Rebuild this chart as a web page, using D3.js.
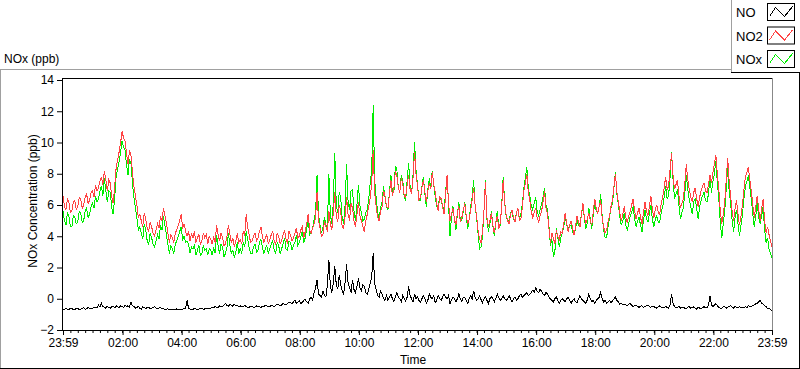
<!DOCTYPE html>
<html>
<head>
<meta charset="utf-8">
<script src="https://cdn.jsdelivr.net/npm/d3@7"></script>
<style>
  body { margin: 0; background: #fff; }
  svg { display: block; font-family: "Liberation Sans", Arial, sans-serif; }
</style>
</head>
<body>
<div id="chart"></div>
<script>
// NOx daily trace, 3 minute samples from 23:59 to 23:59

const stepMinutes = 3;
const startMinute = -1;

const seriesNames = ["NO", "NO2", "NOx"];
const seriesColors = ["#000000", "#ff4444", "#00ee00"];

const noValues = [
  -0.65, -0.7, -0.6, -0.66, -0.7, -0.6, -0.62, -0.7, -0.68, -0.62, -0.6, -0.7, -0.66, -0.6, -0.58, -0.68, -0.64, -0.56, -0.6, -0.66,
  -0.62, -0.56, -0.55, -0.6, -0.4, -0.52, -0.3, -0.5, -0.55, -0.6, -0.48, -0.56, -0.6, -0.52, -0.5, -0.58, -0.45, -0.52, -0.55, -0.46,
  -0.5, -0.56, -0.4, -0.5, -0.45, -0.52, -0.2, -0.45, -0.5, -0.6, -0.55, -0.5, -0.6, -0.66, -0.5, -0.58, -0.62, -0.56, -0.55, -0.64,
  -0.6, -0.55, -0.5, -0.6, -0.65, -0.58, -0.55, -0.64, -0.62, -0.7, -0.68, -0.64, -0.7, -0.72, -0.66, -0.7, -0.7, -0.65, -0.68, -0.72,
  -0.7, -0.66, -0.65, -0.6, -0.1, -0.62, -0.66, -0.7, -0.68, -0.62, -0.64, -0.7, -0.66, -0.6, -0.62, -0.68, -0.65, -0.6, -0.6, -0.66,
  -0.62, -0.55, -0.58, -0.5, -0.55, -0.6, -0.45, -0.52, -0.5, -0.42, -0.3, -0.45, -0.48, -0.38, -0.4, -0.48, -0.35, -0.44, -0.42, -0.5,
  -0.45, -0.52, -0.5, -0.44, -0.48, -0.56, -0.55, -0.48, -0.5, -0.56, -0.52, -0.46, -0.48, -0.52, -0.55, -0.5, -0.5, -0.42, -0.46, -0.52,
  -0.5, -0.42, -0.45, -0.5, -0.42, -0.35, -0.38, -0.44, -0.4, -0.3, -0.35, -0.4, -0.3, -0.22, -0.25, -0.32, -0.2, -0.1, -0.28, -0.2,
  -0.15, -0.3, -0.25, -0.1, -0.05, -0.2, -0.3, 0.0, 0.1, -0.1, 0.4, 0.7, 1.2, 0.3, 0.2, 0.1, 0.5, 0.2, 0.1, 0.9,
  2.5, 0.8, 0.4, 1.0, 2.1, 0.9, 0.6, 1.5, 0.9, 0.5, 0.3, 1.1, 2.2, 1.0, 0.7, 0.4, 1.2, 0.6, 0.4, 0.8,
  1.3, 0.7, 0.5, 0.9, 0.8, 0.4, 0.3, 0.6, 1.0, 1.4, 2.9, 1.0, 0.6, 0.2, 0.1, 0.5, 0.3, 0.0, -0.1, 0.2,
  -0.1, 0.1, 0.3, 0.0, -0.2, 0.1, 0.4, 0.1, 0.0, -0.2, 0.2, 0.0, -0.15, 0.1, 0.8, 0.2, 0.0, -0.2, 0.3, 0.0,
  0.1, -0.1, -0.2, 0.0, 0.2, 0.0, -0.3, -0.1, 0.3, 0.1, 0.0, 0.2, -0.25, -0.1, 0.2, 0.0, -0.1, 0.1, 0.3, 0.1,
  0.0, 0.2, -0.3, -0.1, 0.1, 0.0, -0.2, 0.0, 0.3, 0.0, -0.15, 0.1, 0.1, -0.1, -0.3, 0.0, 0.2, 0.0, 0.5, 0.1,
  -0.1, 0.0, 0.2, -0.05, -0.25, 0.0, 0.1, -0.1, -0.3, 0.0, 0.15, 0.0, -0.2, 0.0, 0.3, 0.1, -0.1, 0.0, 0.2, 0.0,
  -0.1, 0.0, 0.2, 0.0, -0.2, 0.0, 0.1, -0.1, 0.0, 0.2, 0.3, 0.1, 0.2, 0.3, 0.4, 0.2, 0.3, 0.4, 0.55, 0.4,
  0.7, 0.5, 0.4, 0.6, 0.5, 0.3, 0.2, 0.4, 0.3, 0.1, 0.0, -0.1, -0.2, 0.0, 0.1, -0.1, -0.3, -0.1, 0.0, -0.1,
  -0.2, 0.0, 0.1, -0.1, -0.3, -0.1, 0.0, -0.2, -0.25, 0.0, 0.2, 0.0, -0.1, -0.2, -0.3, -0.05, 0.3, 0.0, -0.2, -0.1,
  -0.3, -0.1, 0.0, 0.1, 0.4, 0.0, -0.2, -0.1, -0.3, -0.2, -0.1, -0.25, -0.15, 0.0, 0.1, -0.1, -0.2, -0.35, -0.3, -0.4,
  -0.35, -0.4, -0.45, -0.35, -0.3, -0.42, -0.5, -0.42, -0.4, -0.5, -0.55, -0.48, -0.45, -0.55, -0.5, -0.44, -0.4, -0.5, -0.55, -0.48,
  -0.5, -0.56, -0.6, -0.52, -0.45, -0.56, -0.55, -0.6, -0.5, -0.56, -0.6, -0.4, 0.3, -0.3, -0.5, -0.58, -0.55, -0.5, -0.6, -0.52,
  -0.55, -0.6, -0.62, -0.54, -0.5, -0.6, -0.58, -0.52, -0.6, -0.66, -0.55, -0.6, -0.62, -0.56, -0.5, -0.58, -0.58, -0.4, 0.2, -0.4,
  -0.5, -0.4, -0.3, -0.45, -0.55, -0.62, -0.6, -0.52, -0.5, -0.6, -0.55, -0.48, -0.45, -0.55, -0.6, -0.5, -0.55, -0.6, -0.5, -0.58,
  -0.55, -0.6, -0.5, -0.56, -0.45, -0.52, -0.5, -0.42, -0.4, -0.32, -0.3, -0.2, -0.1, -0.28, -0.35, -0.45, -0.5, -0.62, -0.6, -0.7, -0.75
];

const no2Values = [
  6.6, 5.9, 5.7, 6.4, 6.2, 5.5, 5.6, 6.2, 6.3, 5.7, 5.9, 6.5, 6.4, 5.8, 6.0, 6.5, 6.7, 6.1, 6.3, 6.8,
  6.9, 6.5, 7.3, 6.9, 7.1, 7.5, 7.8, 7.3, 8.2, 7.6, 6.9, 7.6, 7.4, 6.5, 6.1, 7.2, 8.4, 8.9, 9.4, 10.0,
  10.7, 10.3, 10.1, 9.3, 8.6, 9.5, 9.2, 8.1, 7.2, 6.6, 6.0, 5.2, 5.4, 5.0, 4.6, 5.5, 5.1, 4.5, 4.3, 4.9,
  4.6, 4.2, 4.0, 4.4, 4.8, 4.5, 5.3, 5.0, 5.8, 5.3, 4.9, 4.2, 3.6, 4.1, 3.9, 3.6, 4.2, 4.4, 4.7, 5.0,
  5.4, 4.5, 4.8, 4.3, 4.0, 4.3, 3.7, 4.2, 3.9, 4.3, 3.6, 3.9, 4.1, 3.5, 3.7, 4.2, 3.9, 4.1, 3.5, 4.0,
  3.8, 3.5, 4.0, 3.6, 4.7, 4.1, 3.7, 4.2, 3.9, 3.4, 3.5, 4.0, 4.7, 4.1, 3.6, 3.9, 3.3, 3.7, 4.2, 3.6,
  3.8, 3.5, 4.3, 4.0, 5.4, 4.6, 4.1, 3.6, 3.7, 4.0, 4.2, 3.7, 3.9, 4.3, 4.6, 4.0, 3.6, 3.9, 4.1, 3.5,
  3.8, 4.1, 4.3, 3.7, 3.5, 4.2, 4.0, 3.5, 3.7, 4.1, 4.4, 3.8, 3.6, 4.3, 4.1, 3.7, 3.9, 4.2, 4.5, 3.9,
  4.0, 4.4, 4.6, 3.9, 4.3, 4.8, 5.4, 4.4, 4.2, 4.5, 4.8, 5.2, 6.8, 5.0, 4.5, 4.0, 4.1, 5.0, 4.6, 4.3,
  5.6, 4.8, 4.4, 5.5, 6.8, 5.3, 4.9, 6.0, 5.6, 4.6, 4.5, 5.3, 6.5, 5.4, 5.0, 6.1, 5.8, 5.0, 4.6, 5.4,
  6.2, 5.3, 5.0, 4.6, 4.3, 5.0, 5.4, 5.9, 6.5, 7.4, 9.5, 6.8, 5.9, 5.2, 5.0, 5.6, 5.9, 6.9, 6.6, 5.9,
  5.8, 6.7, 7.6, 6.6, 7.0, 8.2, 7.9, 7.1, 6.8, 7.7, 7.4, 6.6, 6.5, 7.3, 7.9, 7.0, 6.7, 7.8, 9.4, 8.0,
  7.2, 6.3, 6.5, 7.1, 7.6, 6.8, 6.2, 6.9, 7.4, 7.0, 8.1, 7.3, 6.8, 6.1, 5.6, 6.5, 6.4, 5.9, 5.4, 6.6,
  7.9, 6.2, 5.0, 5.4, 5.8, 5.1, 4.7, 5.5, 5.9, 4.9, 5.2, 5.7, 6.1, 5.3, 4.8, 5.1, 5.7, 6.3, 7.1, 6.0,
  5.3, 4.4, 3.8, 3.6, 4.3, 5.6, 7.5, 5.2, 4.6, 5.0, 5.5, 4.7, 4.2, 4.9, 5.3, 4.5, 4.8, 5.9, 7.6, 6.1,
  5.4, 5.0, 4.8, 5.4, 5.7, 5.2, 4.9, 5.5, 5.8, 5.0, 5.1, 5.9, 6.9, 7.4, 8.0, 6.8, 6.3, 5.6, 5.2, 5.5,
  5.8, 5.2, 4.9, 5.3, 5.6, 6.2, 6.9, 5.8, 5.4, 4.5, 3.6, 4.2, 3.9, 3.5, 4.4, 4.0, 3.8, 4.3, 4.2, 4.8,
  5.5, 4.8, 4.3, 4.7, 5.0, 4.5, 4.1, 4.6, 5.3, 4.9, 4.6, 5.4, 6.1, 5.2, 4.8, 5.1, 5.5, 5.0, 4.7, 5.6,
  6.4, 5.8, 5.5, 5.9, 6.3, 5.2, 4.6, 4.2, 4.4, 4.9, 5.3, 5.9, 6.3, 7.2, 8.0, 6.8, 6.2, 5.5, 5.0, 5.4,
  5.9, 5.2, 4.9, 5.3, 5.6, 6.0, 6.4, 5.6, 5.1, 5.5, 5.8, 5.2, 4.8, 5.5, 6.2, 5.6, 5.3, 5.9, 6.6, 5.7,
  5.2, 5.7, 6.0, 5.5, 5.4, 6.1, 6.5, 7.1, 7.8, 7.0, 7.2, 8.3, 9.3, 7.9, 7.0, 7.3, 7.6, 6.6, 5.8, 6.1,
  6.4, 7.4, 8.6, 7.6, 7.0, 6.5, 6.2, 6.8, 7.1, 6.4, 5.9, 6.5, 6.9, 7.2, 7.4, 6.9, 6.8, 7.3, 7.9, 7.4,
  8.1, 8.6, 9.2, 8.0, 7.0, 5.6, 4.8, 5.4, 6.2, 7.6, 9.0, 7.5, 6.6, 5.6, 5.0, 5.8, 6.3, 5.4, 4.7, 5.3,
  6.0, 7.0, 7.8, 8.1, 8.4, 7.6, 6.9, 6.0, 5.2, 5.9, 6.6, 5.7, 5.0, 5.8, 6.4, 5.0, 4.2, 4.6, 4.1, 3.7, 3.3
];

const noxValues = [
  5.6, 5.0, 4.7, 5.5, 5.3, 4.6, 4.6, 5.3, 5.2, 4.8, 4.9, 5.6, 5.5, 4.9, 5.0, 5.6, 5.8, 5.2, 5.4, 5.9,
  6.1, 5.8, 6.6, 6.2, 6.4, 6.9, 7.2, 6.6, 7.7, 6.9, 6.2, 6.9, 6.8, 5.8, 5.4, 6.5, 7.9, 8.3, 8.8, 9.4,
  10.1, 9.7, 9.5, 8.6, 7.9, 8.9, 8.7, 7.4, 6.5, 5.8, 5.2, 4.4, 4.6, 4.2, 3.8, 4.8, 4.4, 3.7, 3.5, 4.2,
  3.9, 3.5, 3.3, 3.7, 4.1, 3.8, 4.7, 4.4, 5.3, 4.7, 4.1, 3.5, 2.9, 3.4, 3.2, 2.9, 3.5, 3.7, 4.0, 4.3,
  4.6, 3.8, 4.0, 3.6, 3.7, 3.5, 2.9, 3.3, 3.2, 3.4, 2.8, 3.1, 3.4, 2.8, 2.9, 3.4, 3.1, 3.2, 2.8, 3.2,
  3.1, 2.8, 3.3, 2.9, 4.1, 3.4, 2.9, 3.5, 3.3, 2.7, 2.9, 3.3, 4.2, 3.4, 2.9, 3.1, 2.6, 3.0, 3.6, 2.9,
  3.2, 2.9, 3.6, 3.3, 4.3, 3.8, 3.3, 2.9, 2.9, 3.3, 3.5, 3.0, 3.1, 3.6, 3.8, 3.3, 2.9, 3.2, 3.4, 2.9,
  3.2, 3.5, 3.7, 3.1, 2.9, 3.6, 3.4, 2.9, 3.2, 3.5, 3.9, 3.2, 3.1, 3.7, 3.6, 3.1, 3.4, 3.6, 4.1, 3.4,
  3.6, 4.0, 4.3, 3.6, 3.9, 4.5, 5.0, 4.1, 4.3, 4.5, 5.1, 5.5, 7.9, 5.4, 4.7, 4.2, 4.6, 5.2, 4.7, 4.6,
  8.0, 5.4, 4.8, 6.1, 9.3, 6.0, 5.5, 6.8, 6.5, 5.2, 4.8, 6.0, 8.6, 6.2, 5.7, 6.9, 7.0, 5.6, 5.0, 6.0,
  7.3, 6.0, 5.5, 5.0, 5.1, 5.5, 5.7, 6.4, 7.4, 8.2, 12.4, 7.6, 6.5, 5.5, 5.1, 5.8, 6.2, 7.2, 6.5, 5.9,
  5.7, 6.8, 7.9, 6.8, 6.8, 8.5, 8.3, 7.1, 6.8, 7.9, 7.6, 6.5, 6.3, 7.6, 8.7, 7.2, 6.7, 8.0, 10.0, 8.2,
  7.3, 6.3, 6.3, 7.2, 7.8, 6.7, 5.9, 7.0, 7.7, 7.1, 8.2, 7.3, 6.5, 5.9, 5.8, 6.6, 6.3, 5.9, 5.7, 6.8,
  7.9, 6.1, 4.0, 5.2, 5.9, 5.1, 4.4, 5.4, 6.2, 5.0, 5.0, 5.6, 6.2, 5.2, 4.5, 5.1, 5.9, 6.5, 7.6, 6.0,
  5.2, 4.2, 3.2, 3.3, 4.0, 5.6, 7.6, 5.1, 4.3, 4.8, 5.6, 4.7, 4.0, 4.8, 5.6, 4.6, 4.7, 6.0, 7.8, 6.2,
  5.3, 5.0, 5.0, 5.5, 5.5, 5.1, 5.0, 5.5, 5.8, 5.1, 5.4, 6.1, 7.1, 7.7, 8.4, 7.1, 6.6, 6.0, 5.7, 6.1,
  6.5, 5.6, 5.3, 5.7, 6.1, 6.5, 7.1, 6.0, 5.7, 4.6, 3.4, 3.8, 2.7, 3.0, 4.5, 3.9, 3.3, 3.9, 4.2, 4.6,
  5.3, 4.7, 4.4, 4.7, 4.7, 4.3, 4.1, 4.5, 5.0, 4.7, 4.8, 5.4, 6.0, 5.1, 4.5, 4.9, 5.8, 5.1, 4.5, 5.4,
  6.1, 5.6, 5.5, 5.9, 6.7, 5.3, 4.4, 3.9, 3.9, 4.6, 5.2, 5.8, 6.1, 7.1, 8.1, 6.7, 6.0, 5.2, 4.7, 5.0,
  5.5, 4.7, 4.4, 4.8, 5.3, 5.5, 5.9, 5.1, 4.6, 5.0, 5.2, 4.7, 4.3, 5.0, 5.7, 5.1, 4.9, 5.4, 6.0, 5.1,
  4.6, 5.1, 5.3, 4.9, 4.9, 5.5, 5.9, 6.5, 7.2, 6.4, 6.6, 7.8, 9.4, 7.6, 6.4, 6.7, 7.0, 6.0, 5.1, 5.5,
  5.8, 6.8, 7.9, 7.0, 6.3, 5.9, 5.4, 6.2, 6.4, 5.8, 5.1, 5.9, 6.3, 6.6, 6.8, 6.3, 6.2, 6.7, 7.8, 6.8,
  7.5, 8.0, 8.8, 7.4, 6.4, 4.9, 3.9, 4.8, 5.6, 7.0, 8.4, 6.9, 6.1, 5.0, 4.3, 5.2, 5.7, 4.8, 4.0, 4.7,
  5.4, 6.4, 7.2, 7.5, 7.9, 7.1, 6.4, 5.4, 4.6, 5.3, 6.1, 5.2, 4.8, 5.3, 5.9, 4.4, 3.6, 3.9, 3.2, 2.9, 2.6
];

// axis ticks (minutes after midnight)
const majorTickMinutes = [-1, 120, 240, 360, 480, 600, 720, 840, 960, 1080, 1200, 1320, 1439];
const majorTickLabels = ["23:59", "02:00", "04:00", "06:00", "08:00", "10:00", "12:00",
  "14:00", "16:00", "18:00", "20:00", "22:00", "23:59"];
const yTickValues = [-2, 0, 2, 4, 6, 8, 10, 12, 14];

const W = 800, H = 369;
const plot = { left: 62, top: 78, right: 772, bottom: 330 };

const svg = d3.select("#chart").append("svg")
  .attr("width", W)
  .attr("height", H);

// outer panel border
svg.append("line").attr("x1", 0).attr("x2", 731).attr("y1", 69.5).attr("y2", 69.5)
  .attr("stroke", "#a0a0a0");
svg.append("line").attr("x1", 0.5).attr("x2", 0.5).attr("y1", 69).attr("y2", H)
  .attr("stroke", "#a0a0a0");
svg.append("line").attr("x1", 0).attr("x2", W).attr("y1", H - 0.5).attr("y2", H - 0.5)
  .attr("stroke", "#000");
svg.append("line").attr("x1", W - 0.5).attr("x2", W - 0.5).attr("y1", 72).attr("y2", H)
  .attr("stroke", "#000");

// scales
const xScale = d3.scaleLinear()
  .domain([-1, 1439])
  .range([plot.left + 1, plot.right]);

const yScale = d3.scaleLinear()
  .domain([-2, 14])
  .range([plot.bottom, plot.top + 2]);

const times = noValues.map((d, i) => startMinute + i * stepMinutes);

// plot area frame
svg.append("line").attr("x1", plot.left).attr("x2", plot.right + 1)
  .attr("y1", plot.top + 0.5).attr("y2", plot.top + 0.5).attr("stroke", "#000");
svg.append("line").attr("x1", plot.right + 0.5).attr("x2", plot.right + 0.5)
  .attr("y1", plot.top).attr("y2", plot.bottom).attr("stroke", "#888");
svg.append("line").attr("x1", plot.left + 0.5).attr("x2", plot.left + 0.5)
  .attr("y1", plot.top).attr("y2", plot.bottom + 1).attr("stroke", "#000");
svg.append("line").attr("x1", plot.left).attr("x2", plot.right + 1)
  .attr("y1", plot.bottom + 0.5).attr("y2", plot.bottom + 0.5).attr("stroke", "#000");

// x axis: minor ticks every 15 min
const minorTicks = d3.range(14, 1439, 15).filter(t => t % 120 !== 0);
const xMinor = svg.append("g")
  .attr("transform", `translate(0,${plot.bottom})`)
  .call(d3.axisBottom(xScale).tickValues(minorTicks).tickSize(3).tickSizeOuter(0).tickFormat(""));
xMinor.select(".domain").remove();

const xAxis = svg.append("g")
  .attr("transform", `translate(0,${plot.bottom})`)
  .call(d3.axisBottom(xScale)
    .tickValues(majorTickMinutes)
    .tickSize(5)
    .tickSizeOuter(0)
    .tickPadding(3)
    .tickFormat((d, i) => majorTickLabels[i]));
xAxis.select(".domain").remove();
xAxis.selectAll("text")
  .style("font-size", "12px")
  .style("fill", "#000")
  .style("font-family", "Liberation Sans, Arial, sans-serif");

// y axis
const yAxis = svg.append("g")
  .attr("transform", `translate(${plot.left},0)`)
  .call(d3.axisLeft(yScale)
    .tickValues(yTickValues)
    .tickSize(5)
    .tickSizeOuter(0)
    .tickPadding(3));
yAxis.select(".domain").remove();
yAxis.selectAll("text")
  .style("font-size", "12px")
  .style("fill", "#000")
  .style("font-family", "Liberation Sans, Arial, sans-serif");

// axis titles
svg.append("text")
  .attr("transform", `translate(37,${(plot.top + plot.bottom) / 2 - 3}) rotate(-90)`)
  .attr("text-anchor", "middle")
  .style("font-size", "12px")
  .text("NOx Concentration (ppb)");

svg.append("text")
  .attr("x", 413)
  .attr("y", 364)
  .attr("text-anchor", "middle")
  .style("font-size", "12px")
  .text("Time");

svg.append("text")
  .attr("x", 4)
  .attr("y", 63)
  .style("font-size", "12px")
  .text("NOx (ppb)");

// data lines: NOx underneath, NO2 over it, NO on top
const line = d3.line()
  .x((d, i) => xScale(times[i]))
  .y(d => yScale(d));

const drawOrder = [
  { values: noxValues, color: seriesColors[2] },
  { values: no2Values, color: seriesColors[1] },
  { values: noValues, color: seriesColors[0] }
];

svg.append("g")
  .selectAll("path")
  .data(drawOrder)
  .enter()
  .append("path")
  .attr("d", d => line(d.values))
  .attr("fill", "none")
  .attr("stroke", d => d.color)
  .attr("stroke-width", 1)
  .attr("shape-rendering", "crispEdges");

// legend
const legend = svg.append("g");
legend.append("line").attr("x1", 731.5).attr("x2", 731.5).attr("y1", 0).attr("y2", 72)
  .attr("stroke", "#a0a0a0");
legend.append("line").attr("x1", 731).attr("x2", W).attr("y1", 72.5).attr("y2", 72.5)
  .attr("stroke", "#000");

const swatchZig = [[2, 13], [8, 4], [17, 13], [25, 3]];

seriesNames.forEach((name, i) => {
  const y0 = 3 + i * 23.5;
  legend.append("text")
    .attr("x", 736)
    .attr("y", y0 + 14)
    .style("font-size", "13px")
    .text(name);
  legend.append("rect")
    .attr("x", 767.5)
    .attr("y", y0 + 0.5)
    .attr("width", 27)
    .attr("height", 17)
    .attr("fill", "#fff")
    .attr("stroke", "#000");
  legend.append("path")
    .attr("d", d3.line()(swatchZig.map(p => [767.5 + p[0], y0 + 0.5 + p[1]])))
    .attr("fill", "none")
    .attr("stroke", seriesColors[i])
    .attr("shape-rendering", "crispEdges");
});
</script>
</body>
</html>
